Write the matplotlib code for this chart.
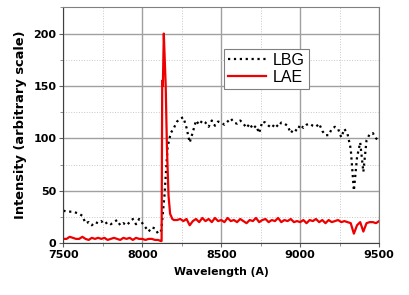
import numpy as np
import matplotlib.pyplot as plt
from matplotlib.ticker import MultipleLocator

# LBG spectrum, sampled every 20 A from 7500 to 9500
lbg_wave = np.arange(7500, 9520, 20)
lbg_flux = [31, 30, 30, 30, 29, 28, 26, 19, 20, 17,
            20, 19, 21, 18, 20, 18, 20, 22, 17, 19,
            17, 20, 23, 18, 23, 19, 15, 11, 15, 14,
            9, 12, 45, 92, 105, 110, 116, 119, 120, 110,
            96, 106, 117, 113, 117, 115, 111, 117, 112, 116,
            115, 113, 116, 119, 115, 114, 117, 114, 110, 114,
            109, 112, 105, 116, 115, 112, 110, 114, 111, 115,
            114, 112, 105, 109, 107, 113, 110, 113, 114, 112,
            111, 114, 107, 103, 103, 109, 111, 109, 101, 109,
            104, 90, 50, 82, 96, 68, 98, 104, 105, 100,
            98]

# LAE spectrum: 20 A grid with a finer sampling around the line
lae_wave = list(range(7500, 8120, 20)) + [8116, 8122, 8126, 8130, 8136, 8142, 8148,
                                          8156, 8166, 8176, 8190] + list(range(8200, 9520, 20))
lae_flux = [4, 4, 6, 5, 4, 4, 6, 4, 3, 5,
            4, 5, 4, 5, 3, 4, 5, 4, 3, 5,
            4, 5, 3, 5, 4, 4, 3, 4, 4, 3,
            3,
            2, 2, 155, 150, 200, 175, 150, 90, 45, 28, 23,
            22, 22, 23, 21, 23, 17, 21, 23, 20, 24,
            21, 23, 20, 24, 21, 22, 20, 24, 21, 22,
            20, 23, 21, 19, 22, 21, 24, 20, 22, 23,
            20, 22, 21, 24, 20, 22, 21, 23, 20, 21,
            20, 22, 19, 22, 21, 23, 20, 22, 19, 22,
            20, 21, 22, 20, 21, 20, 19, 9, 17, 20,
            11, 19, 20, 20, 19, 21]

fig = plt.figure(figsize=(4.09, 2.95), dpi=100)
ax = fig.add_axes([0.155, 0.176, 0.772, 0.799])

ax.plot(lbg_wave, lbg_flux, color='black', linestyle=':', linewidth=1.6, label='LBG')
ax.plot(lae_wave, lae_flux, color='#ee0000', linewidth=1.6, label='LAE')

ax.set_xlim(7500, 9500)
ax.set_ylim(0, 225)
ax.xaxis.set_major_locator(MultipleLocator(500))
ax.xaxis.set_minor_locator(MultipleLocator(250))
ax.yaxis.set_major_locator(MultipleLocator(50))
ax.yaxis.set_minor_locator(MultipleLocator(25))

ax.grid(which='major', color='#a0a0a0', linewidth=1.0)
ax.grid(which='minor', color='#c8c8c8', linewidth=0.7, linestyle=':')
ax.set_axisbelow(True)

for side in ['top', 'right']:
    ax.spines[side].set_color('#808080')
for side in ['left', 'bottom']:
    ax.spines[side].set_color('#404040')

ax.tick_params(which='major', direction='out', length=3, color='#606060', pad=2)
ax.tick_params(which='minor', direction='out', length=2, color='#808080')
for lbl in ax.get_xticklabels() + ax.get_yticklabels():
    lbl.set_fontfamily('DejaVu Sans')
    lbl.set_fontweight('bold')
    lbl.set_fontsize(8)

ax.set_xlabel('Wavelength (A)', fontsize=7.8, fontweight='bold', labelpad=5)
ax.set_ylabel('Intensity (arbitrary scale)', fontsize=9.4, fontweight='bold', labelpad=5)

leg = ax.legend(loc='upper left', bbox_to_anchor=(0.508, 0.825), fancybox=False,
                framealpha=1, edgecolor='#808080', handlelength=2.4, handletextpad=0.4,
                borderpad=0.25, labelspacing=0.15, borderaxespad=0,
                prop={'family': 'Liberation Sans', 'size': 11.5})
leg.get_frame().set_linewidth(0.8)

fig.savefig('out.png', dpi=100)
